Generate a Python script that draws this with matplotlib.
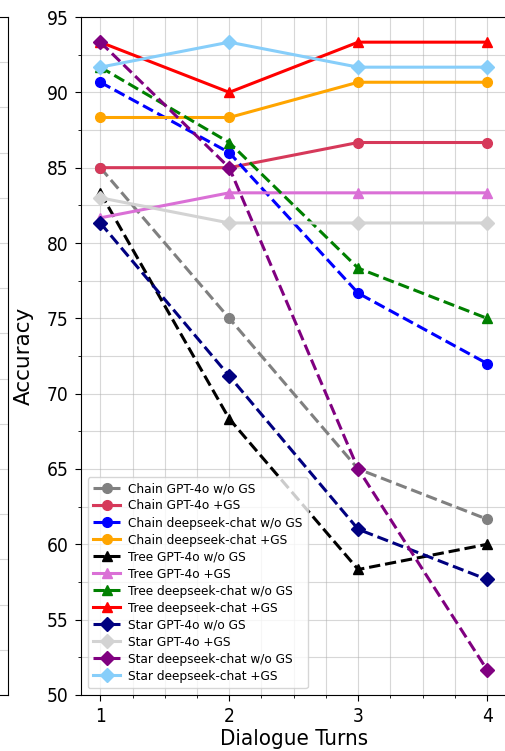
import matplotlib
matplotlib.use("Agg")
import matplotlib.pyplot as plt
from matplotlib.ticker import MultipleLocator

turns = [1, 2, 3, 4]

labels = [
    "Chain GPT-4o w/o GS", "Chain GPT-4o +GS",
    "Chain deepseek-chat w/o GS", "Chain deepseek-chat +GS",
    "Tree GPT-4o w/o GS", "Tree GPT-4o +GS",
    "Tree deepseek-chat w/o GS", "Tree deepseek-chat +GS",
    "Star GPT-4o w/o GS", "Star GPT-4o +GS",
    "Star deepseek-chat w/o GS", "Star deepseek-chat +GS",
]

chain_gpt_wo = [85.0, 75.0, 65.0, 61.67]
chain_gpt_gs = [85.0, 85.0, 86.67, 86.67]
chain_ds_wo = [90.67, 86.0, 76.67, 72.0]
chain_ds_gs = [88.33, 88.33, 90.67, 90.67]
tree_gpt_wo = [83.33, 68.33, 58.33, 60.0]
tree_gpt_gs = [81.67, 83.33, 83.33, 83.33]
tree_ds_wo = [91.67, 86.67, 78.33, 75.0]
tree_ds_gs = [93.33, 90.0, 93.33, 93.33]
star_gpt_wo = [81.33, 71.17, 61.0, 57.67]
star_gpt_gs = [83.0, 81.33, 81.33, 81.33]
star_ds_wo = [93.33, 85.0, 65.0, 51.67]
star_ds_gs = [91.67, 93.33, 91.67, 91.67]

series = [chain_gpt_wo, chain_gpt_gs, chain_ds_wo, chain_ds_gs,
          tree_gpt_wo, tree_gpt_gs, tree_ds_wo, tree_ds_gs,
          star_gpt_wo, star_gpt_gs, star_ds_wo, star_ds_gs]
colors = ["gray", "#d6395a", "blue", "orange",
          "black", "orchid", "green", "red",
          "navy", "lightgray", "purple", "lightskyblue"]
markers = ["o", "o", "o", "o", "^", "^", "^", "^", "D", "D", "D", "D"]
styles = ["--", "-"] * 6

W, H = 505, 751
fig = plt.figure(figsize=(W / 100, H / 100), dpi=100)

ax_l, ax_r, ax_t, ax_b = 81, 506.4, 17, 695
# partial neighbouring subplot on the left (cropped)
ax0 = fig.add_axes([-0.5, 1 - ax_b / H, 0.5 + 8 / W, (ax_b - ax_t) / H])
ax0.set_ylim(0, 15)
ax0.set_yticks(range(16))
ax0.set_xticks([])
ax0.tick_params(labelleft=False, length=0)
ax0.grid(True, axis="y", color="#b0b0b0", alpha=0.5, linewidth=0.8)

ax = fig.add_axes([ax_l / W, 1 - ax_b / H, (ax_r - ax_l) / W, (ax_b - ax_t) / H])
for ys, c, m, ls, lab in zip(series, colors, markers, styles, labels):
    ax.plot(turns, ys, linestyle=ls, marker=m, color=c, label=lab,
            linewidth=2.2, markersize=7)

ax.set_xlim(0.85, 4.15)
ax.set_ylim(50, 95)
ax.xaxis.set_major_locator(MultipleLocator(1))
ax.xaxis.set_minor_locator(MultipleLocator(0.25))
ax.yaxis.set_major_locator(MultipleLocator(5))
ax.yaxis.set_minor_locator(MultipleLocator(2.5))
ax.grid(True, which="both", color="#b0b0b0", alpha=0.5, linewidth=0.8)
ax.set_axisbelow(True)
ax.tick_params(axis="both", which="major", labelsize=13.7, pad=5, length=4)
ax.tick_params(axis="both", which="minor", length=2.5)
for t in ax.get_xticklabels() + ax.get_yticklabels():
    t.set_fontstretch("condensed")

ax.set_xlabel("Dialogue Turns", fontsize=16, fontstretch="condensed")
ax.set_ylabel("Accuracy", fontsize=15.5)
ax.xaxis.set_label_coords(0.5, (ax_b - 729) / (ax_b - ax_t))
ax.yaxis.set_label_coords((34 - ax_l) / (ax_r - ax_l), 0.5)

leg = ax.legend(loc="lower left", labelspacing=0.3,
                handlelength=2.0, handletextpad=0.6, borderpad=0.4,
                prop={"size": 9.7, "stretch": "condensed"})

fig.savefig("out.png", dpi=100)
